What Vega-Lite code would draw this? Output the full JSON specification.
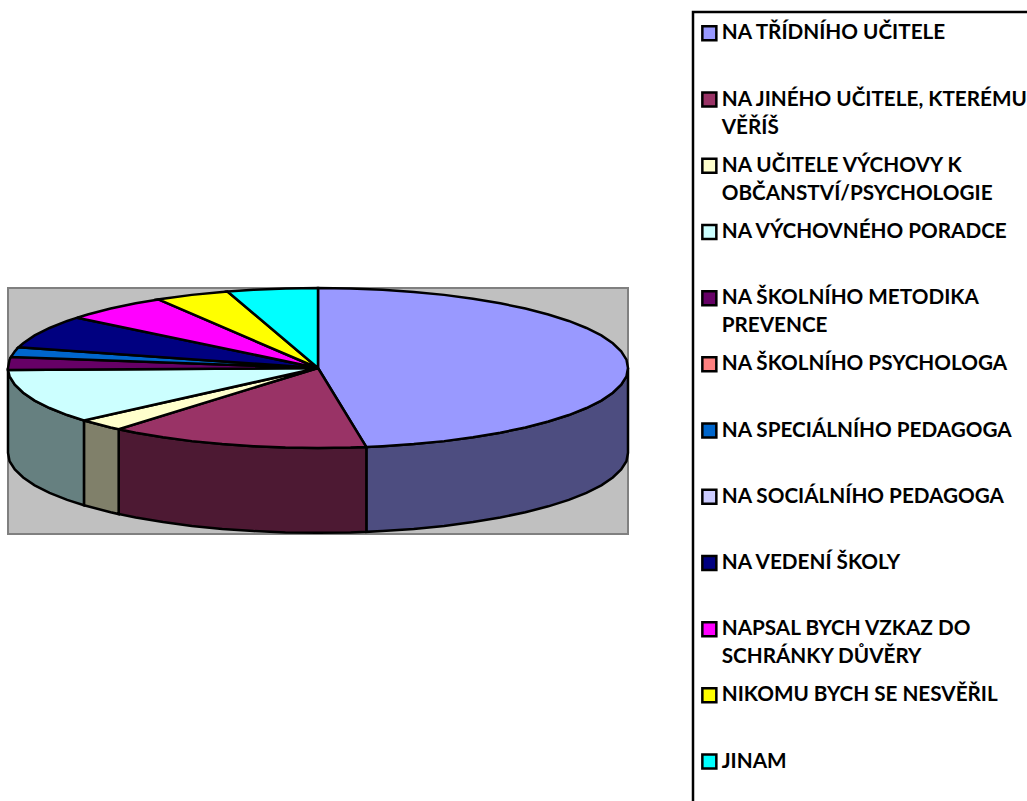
{"$schema":"https://vega.github.io/schema/vega-lite/v6.json","width":620,"height":246,"padding":{"left":8,"top":288,"right":399,"bottom":267},"autosize":{"type":"none"},"background":"white","view":{"fill":"#C0C0C0","stroke":"#808080","strokeWidth":2},"config":{"legend":{"strokeWidth":2.5},"style":{"guide-label":{"lineHeight":28}}},"resolve":{"scale":{"fill":"independent"}},"encoding":{"x":{"field":"x","type":"quantitative","axis":null,"scale":{"domain":[-100,100],"nice":false,"zero":false}},"y":{"field":"y","type":"quantitative","axis":null,"scale":{"domain":[-207.5,100],"nice":false,"zero":false}},"order":{"field":"o","type":"quantitative"},"detail":{"field":"s","type":"nominal"}},"layer":[{"data":{"values":[
{"s":"A","o":0,"x":100,"y":0},{"s":"A","o":1,"x":99.5,"y":-10.5},{"s":"A","o":2,"x":97.8,"y":-20.8},{"s":"A","o":3,"x":95.1,"y":-30.9},{"s":"A","o":4,"x":91.4,"y":-40.7},{"s":"A","o":5,"x":86.6,"y":-50},{"s":"A","o":6,"x":80.9,"y":-58.8},{"s":"A","o":7,"x":74.3,"y":-66.9},{"s":"A","o":8,"x":66.9,"y":-74.3},{"s":"A","o":9,"x":58.8,"y":-80.9},{"s":"A","o":10,"x":50,"y":-86.6},{"s":"A","o":11,"x":40.7,"y":-91.4},{"s":"A","o":12,"x":30.9,"y":-95.1},{"s":"A","o":13,"x":20.8,"y":-97.8},{"s":"A","o":14,"x":15.6,"y":-98.8},
{"s":"A","o":15,"x":15.6,"y":-204.8},{"s":"A","o":16,"x":20.8,"y":-203.8},{"s":"A","o":17,"x":30.9,"y":-201.1},{"s":"A","o":18,"x":40.7,"y":-197.4},{"s":"A","o":19,"x":50,"y":-192.6},{"s":"A","o":20,"x":58.8,"y":-186.9},{"s":"A","o":21,"x":66.9,"y":-180.3},{"s":"A","o":22,"x":74.3,"y":-172.9},{"s":"A","o":23,"x":80.9,"y":-164.8},{"s":"A","o":24,"x":86.6,"y":-156},{"s":"A","o":25,"x":91.4,"y":-146.7},{"s":"A","o":26,"x":95.1,"y":-136.9},{"s":"A","o":27,"x":97.8,"y":-126.8},{"s":"A","o":28,"x":99.5,"y":-116.5},{"s":"A","o":29,"x":100,"y":-106},
{"s":"B","o":0,"x":15.6,"y":-98.8},{"s":"B","o":1,"x":10.5,"y":-99.5},{"s":"B","o":2,"x":0,"y":-100},{"s":"B","o":3,"x":-10.5,"y":-99.5},{"s":"B","o":4,"x":-20.8,"y":-97.8},{"s":"B","o":5,"x":-30.9,"y":-95.1},{"s":"B","o":6,"x":-40.7,"y":-91.4},{"s":"B","o":7,"x":-50,"y":-86.6},{"s":"B","o":8,"x":-58.8,"y":-80.9},{"s":"B","o":9,"x":-64.3,"y":-76.6},
{"s":"B","o":10,"x":-64.3,"y":-182.6},{"s":"B","o":11,"x":-58.8,"y":-186.9},{"s":"B","o":12,"x":-50,"y":-192.6},{"s":"B","o":13,"x":-40.7,"y":-197.4},{"s":"B","o":14,"x":-30.9,"y":-201.1},{"s":"B","o":15,"x":-20.8,"y":-203.8},{"s":"B","o":16,"x":-10.5,"y":-205.5},{"s":"B","o":17,"x":0,"y":-206},{"s":"B","o":18,"x":10.5,"y":-205.5},{"s":"B","o":19,"x":15.6,"y":-204.8},
{"s":"C","o":0,"x":-64.3,"y":-76.6},{"s":"C","o":1,"x":-66.9,"y":-74.3},{"s":"C","o":2,"x":-75.5,"y":-65.6},{"s":"C","o":3,"x":-75.5,"y":-171.6},{"s":"C","o":4,"x":-66.9,"y":-180.3},{"s":"C","o":5,"x":-64.3,"y":-182.6},
{"s":"D","o":0,"x":-75.5,"y":-65.6},{"s":"D","o":1,"x":-80.9,"y":-58.8},{"s":"D","o":2,"x":-86.6,"y":-50},{"s":"D","o":3,"x":-91.4,"y":-40.7},{"s":"D","o":4,"x":-95.1,"y":-30.9},{"s":"D","o":5,"x":-97.8,"y":-20.8},{"s":"D","o":6,"x":-99.5,"y":-10.5},{"s":"D","o":7,"x":-100,"y":0},
{"s":"D","o":8,"x":-100,"y":-106},{"s":"D","o":9,"x":-99.5,"y":-116.5},{"s":"D","o":10,"x":-97.8,"y":-126.8},{"s":"D","o":11,"x":-95.1,"y":-136.9},{"s":"D","o":12,"x":-91.4,"y":-146.7},{"s":"D","o":13,"x":-86.6,"y":-156},{"s":"D","o":14,"x":-80.9,"y":-164.8},{"s":"D","o":15,"x":-75.5,"y":-171.6}
]},"mark":{"type":"line","interpolate":"linear-closed","stroke":"black","strokeWidth":2.5},"encoding":{"fill":{"field":"s","type":"nominal","legend":null,"scale":{"domain":["A","B","C","D"],"range":["#4D4D80","#4D1933","#80806A","#668080"]}}}},
{"data":{"values":[
{"s":"NA TŘÍDNÍHO UČITELE","o":0,"x":0,"y":0},{"s":"NA TŘÍDNÍHO UČITELE","o":1,"x":0,"y":100},{"s":"NA TŘÍDNÍHO UČITELE","o":2,"x":10.5,"y":99.5},{"s":"NA TŘÍDNÍHO UČITELE","o":3,"x":20.8,"y":97.8},{"s":"NA TŘÍDNÍHO UČITELE","o":4,"x":30.9,"y":95.1},{"s":"NA TŘÍDNÍHO UČITELE","o":5,"x":40.7,"y":91.4},{"s":"NA TŘÍDNÍHO UČITELE","o":6,"x":50,"y":86.6},{"s":"NA TŘÍDNÍHO UČITELE","o":7,"x":58.8,"y":80.9},{"s":"NA TŘÍDNÍHO UČITELE","o":8,"x":66.9,"y":74.3},{"s":"NA TŘÍDNÍHO UČITELE","o":9,"x":74.3,"y":66.9},{"s":"NA TŘÍDNÍHO UČITELE","o":10,"x":80.9,"y":58.8},{"s":"NA TŘÍDNÍHO UČITELE","o":11,"x":86.6,"y":50},{"s":"NA TŘÍDNÍHO UČITELE","o":12,"x":91.4,"y":40.7},{"s":"NA TŘÍDNÍHO UČITELE","o":13,"x":95.1,"y":30.9},{"s":"NA TŘÍDNÍHO UČITELE","o":14,"x":97.8,"y":20.8},{"s":"NA TŘÍDNÍHO UČITELE","o":15,"x":99.5,"y":10.5},{"s":"NA TŘÍDNÍHO UČITELE","o":16,"x":100,"y":0},{"s":"NA TŘÍDNÍHO UČITELE","o":17,"x":99.5,"y":-10.5},{"s":"NA TŘÍDNÍHO UČITELE","o":18,"x":97.8,"y":-20.8},{"s":"NA TŘÍDNÍHO UČITELE","o":19,"x":95.1,"y":-30.9},{"s":"NA TŘÍDNÍHO UČITELE","o":20,"x":91.4,"y":-40.7},{"s":"NA TŘÍDNÍHO UČITELE","o":21,"x":86.6,"y":-50},{"s":"NA TŘÍDNÍHO UČITELE","o":22,"x":80.9,"y":-58.8},{"s":"NA TŘÍDNÍHO UČITELE","o":23,"x":74.3,"y":-66.9},{"s":"NA TŘÍDNÍHO UČITELE","o":24,"x":66.9,"y":-74.3},{"s":"NA TŘÍDNÍHO UČITELE","o":25,"x":58.8,"y":-80.9},{"s":"NA TŘÍDNÍHO UČITELE","o":26,"x":50,"y":-86.6},{"s":"NA TŘÍDNÍHO UČITELE","o":27,"x":40.7,"y":-91.4},{"s":"NA TŘÍDNÍHO UČITELE","o":28,"x":30.9,"y":-95.1},{"s":"NA TŘÍDNÍHO UČITELE","o":29,"x":20.8,"y":-97.8},{"s":"NA TŘÍDNÍHO UČITELE","o":30,"x":15.6,"y":-98.8},
{"s":"NA JINÉHO UČITELE, KTERÉMU VĚŘÍŠ","o":0,"x":0,"y":0},{"s":"NA JINÉHO UČITELE, KTERÉMU VĚŘÍŠ","o":1,"x":15.6,"y":-98.8},{"s":"NA JINÉHO UČITELE, KTERÉMU VĚŘÍŠ","o":2,"x":10.5,"y":-99.5},{"s":"NA JINÉHO UČITELE, KTERÉMU VĚŘÍŠ","o":3,"x":0,"y":-100},{"s":"NA JINÉHO UČITELE, KTERÉMU VĚŘÍŠ","o":4,"x":-10.5,"y":-99.5},{"s":"NA JINÉHO UČITELE, KTERÉMU VĚŘÍŠ","o":5,"x":-20.8,"y":-97.8},{"s":"NA JINÉHO UČITELE, KTERÉMU VĚŘÍŠ","o":6,"x":-30.9,"y":-95.1},{"s":"NA JINÉHO UČITELE, KTERÉMU VĚŘÍŠ","o":7,"x":-40.7,"y":-91.4},{"s":"NA JINÉHO UČITELE, KTERÉMU VĚŘÍŠ","o":8,"x":-50,"y":-86.6},{"s":"NA JINÉHO UČITELE, KTERÉMU VĚŘÍŠ","o":9,"x":-58.8,"y":-80.9},{"s":"NA JINÉHO UČITELE, KTERÉMU VĚŘÍŠ","o":10,"x":-64.3,"y":-76.6},
{"s":"NA UČITELE VÝCHOVY K OBČANSTVÍ/PSYCHOLOGIE","o":0,"x":0,"y":0},{"s":"NA UČITELE VÝCHOVY K OBČANSTVÍ/PSYCHOLOGIE","o":1,"x":-64.3,"y":-76.6},{"s":"NA UČITELE VÝCHOVY K OBČANSTVÍ/PSYCHOLOGIE","o":2,"x":-66.9,"y":-74.3},{"s":"NA UČITELE VÝCHOVY K OBČANSTVÍ/PSYCHOLOGIE","o":3,"x":-75.5,"y":-65.6},
{"s":"NA VÝCHOVNÉHO PORADCE","o":0,"x":0,"y":0},{"s":"NA VÝCHOVNÉHO PORADCE","o":1,"x":-75.5,"y":-65.6},{"s":"NA VÝCHOVNÉHO PORADCE","o":2,"x":-80.9,"y":-58.8},{"s":"NA VÝCHOVNÉHO PORADCE","o":3,"x":-86.6,"y":-50},{"s":"NA VÝCHOVNÉHO PORADCE","o":4,"x":-91.4,"y":-40.7},{"s":"NA VÝCHOVNÉHO PORADCE","o":5,"x":-95.1,"y":-30.9},{"s":"NA VÝCHOVNÉHO PORADCE","o":6,"x":-97.8,"y":-20.8},{"s":"NA VÝCHOVNÉHO PORADCE","o":7,"x":-99.5,"y":-10.5},{"s":"NA VÝCHOVNÉHO PORADCE","o":8,"x":-100,"y":-2.6},
{"s":"NA ŠKOLNÍHO METODIKA PREVENCE","o":0,"x":0,"y":0},{"s":"NA ŠKOLNÍHO METODIKA PREVENCE","o":1,"x":-100,"y":-2.6},{"s":"NA ŠKOLNÍHO METODIKA PREVENCE","o":2,"x":-100,"y":0},{"s":"NA ŠKOLNÍHO METODIKA PREVENCE","o":3,"x":-99.5,"y":10.5},{"s":"NA ŠKOLNÍHO METODIKA PREVENCE","o":4,"x":-99,"y":13.9},
{"s":"NA SPECIÁLNÍHO PEDAGOGA","o":0,"x":0,"y":0},{"s":"NA SPECIÁLNÍHO PEDAGOGA","o":1,"x":-99,"y":13.9},{"s":"NA SPECIÁLNÍHO PEDAGOGA","o":2,"x":-97.8,"y":20.8},{"s":"NA SPECIÁLNÍHO PEDAGOGA","o":3,"x":-96.6,"y":25.9},
{"s":"NA VEDENÍ ŠKOLY","o":0,"x":0,"y":0},{"s":"NA VEDENÍ ŠKOLY","o":1,"x":-96.6,"y":25.9},{"s":"NA VEDENÍ ŠKOLY","o":2,"x":-95.1,"y":30.9},{"s":"NA VEDENÍ ŠKOLY","o":3,"x":-91.4,"y":40.7},{"s":"NA VEDENÍ ŠKOLY","o":4,"x":-86.6,"y":50},{"s":"NA VEDENÍ ŠKOLY","o":5,"x":-80.9,"y":58.8},{"s":"NA VEDENÍ ŠKOLY","o":6,"x":-77.7,"y":62.9},
{"s":"NAPSAL BYCH VZKAZ DO SCHRÁNKY DŮVĚRY","o":0,"x":0,"y":0},{"s":"NAPSAL BYCH VZKAZ DO SCHRÁNKY DŮVĚRY","o":1,"x":-77.7,"y":62.9},{"s":"NAPSAL BYCH VZKAZ DO SCHRÁNKY DŮVĚRY","o":2,"x":-74.3,"y":66.9},{"s":"NAPSAL BYCH VZKAZ DO SCHRÁNKY DŮVĚRY","o":3,"x":-66.9,"y":74.3},{"s":"NAPSAL BYCH VZKAZ DO SCHRÁNKY DŮVĚRY","o":4,"x":-58.8,"y":80.9},{"s":"NAPSAL BYCH VZKAZ DO SCHRÁNKY DŮVĚRY","o":5,"x":-51.5,"y":85.7},
{"s":"NIKOMU BYCH SE NESVĚŘIL","o":0,"x":0,"y":0},{"s":"NIKOMU BYCH SE NESVĚŘIL","o":1,"x":-51.5,"y":85.7},{"s":"NIKOMU BYCH SE NESVĚŘIL","o":2,"x":-50,"y":86.6},{"s":"NIKOMU BYCH SE NESVĚŘIL","o":3,"x":-40.7,"y":91.4},{"s":"NIKOMU BYCH SE NESVĚŘIL","o":4,"x":-30.9,"y":95.1},{"s":"NIKOMU BYCH SE NESVĚŘIL","o":5,"x":-29.2,"y":95.6},
{"s":"JINAM","o":0,"x":0,"y":0},{"s":"JINAM","o":1,"x":-29.2,"y":95.6},{"s":"JINAM","o":2,"x":-20.8,"y":97.8},{"s":"JINAM","o":3,"x":-10.5,"y":99.5},{"s":"JINAM","o":4,"x":0,"y":100}
]},"mark":{"type":"line","interpolate":"linear-closed","stroke":"black","strokeWidth":2.5},"encoding":{"fill":{"field":"s","type":"nominal","scale":{"domain":["NA TŘÍDNÍHO UČITELE","NA JINÉHO UČITELE, KTERÉMU VĚŘÍŠ","NA UČITELE VÝCHOVY K OBČANSTVÍ/PSYCHOLOGIE","NA VÝCHOVNÉHO PORADCE","NA ŠKOLNÍHO METODIKA PREVENCE","NA ŠKOLNÍHO PSYCHOLOGA","NA SPECIÁLNÍHO PEDAGOGA","NA SOCIÁLNÍHO PEDAGOGA","NA VEDENÍ ŠKOLY","NAPSAL BYCH VZKAZ DO SCHRÁNKY DŮVĚRY","NIKOMU BYCH SE NESVĚŘIL","JINAM"],"range":["#9999FF","#993366","#FFFFCC","#CCFFFF","#660066","#FF8080","#0066CC","#CCCCFF","#000080","#FF00FF","#FFFF00","#00FFFF"]},"legend":{"orient":"none","legendX":685,"legendY":-276,"title":" ","titleOrient":"bottom","titlePadding":24,"titleFontSize":12,"columns":1,"symbolType":"square","symbolSize":196,"symbolStrokeColor":"black","symbolStrokeWidth":2.5,"symbolOpacity":1,"symbolOffset":-5,"strokeColor":"black","padding":11,"rowPadding":15.2,"gridAlign":"all","labelFont":"Lato","labelFontWeight":"bold","labelFontSize":20.7,"labelColor":"black","labelOffset":2,"labelLimit":400,"labelBaseline":"middle","labelExpr":"split(replace(replace(replace(replace(datum.label,'KTERÉMU ','KTERÉMU|'),'K OBČ','K|OBČ'),'METODIKA ','METODIKA|'),'DO SCHR','DO|SCHR'),'|')"}}}}]}
